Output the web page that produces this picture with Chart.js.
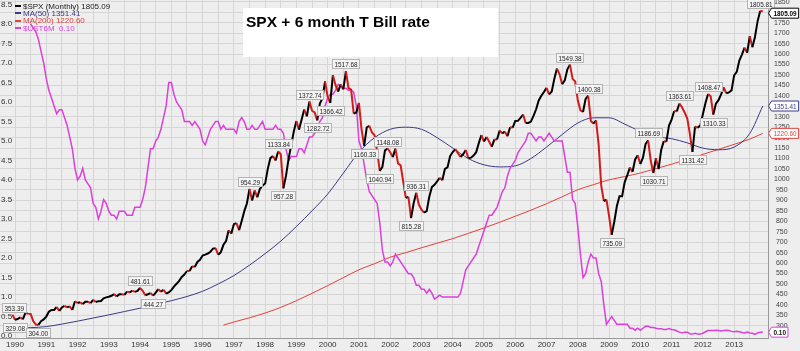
<!DOCTYPE html>
<html>
<head>
<meta charset="utf-8">
<script src="https://cdn.jsdelivr.net/npm/chart.js@4.4.0/dist/chart.umd.min.js"></script>
<style>
  html, body { margin: 0; padding: 0; background: #eeeeee; }
  #wrap { width: 800px; height: 351px; }
</style>
</head>
<body>
<div id="wrap"><canvas id="myChart" width="800" height="351"></canvas></div>
<script>
// month index: 0 = Jan 1990
const yearLabels = ['1990','1991','1992','1993','1994','1995','1996','1997','1998','1999','2000','2001',
  '2002','2003','2004','2005','2006','2007','2008','2009','2010','2011','2012','2013'];

// $SPX monthly close, starts Dec 1989 (month -1)
const spxStartMonth = -1;
const spxClose = [353.39,
  329.08, 331.89, 339.94, 330.80, 361.23, 358.02, 356.15, 322.56, 306.05, 304.00, 322.22, 330.22,
  343.93, 367.07, 375.22, 375.34, 389.83, 371.16, 387.81, 395.43, 387.86, 392.45, 375.22, 417.09,
  408.79, 412.70, 403.69, 414.95, 415.35, 408.14, 424.21, 414.03, 417.80, 418.68, 431.35, 435.71,
  438.78, 443.38, 451.67, 440.19, 450.19, 450.53, 448.13, 463.56, 458.93, 467.83, 461.79, 466.45,
  481.61, 467.14, 445.77, 450.91, 456.50, 444.27, 458.26, 475.49, 462.69, 472.35, 453.69, 459.27,
  470.42, 487.39, 500.71, 514.71, 533.40, 544.75, 562.06, 561.88, 584.41, 581.50, 605.37, 615.93,
  636.02, 640.43, 645.50, 654.17, 669.12, 670.63, 639.95, 651.99, 687.31, 705.27, 757.02, 740.74,
  786.16, 790.82, 757.12, 801.34, 848.28, 885.14, 954.29, 899.47, 947.28, 914.62, 955.40, 970.43,
  980.28, 1049.34, 1101.75, 1111.75, 1090.82, 1133.84, 1120.67, 957.28, 1017.01, 1098.67, 1163.63, 1229.23,
  1279.64, 1238.33, 1286.37, 1335.18, 1301.84, 1372.74, 1328.72, 1320.41, 1282.72, 1362.93, 1388.91, 1469.25,
  1394.46, 1366.42, 1498.58, 1452.43, 1420.60, 1454.60, 1430.83, 1517.68, 1436.51, 1429.40, 1314.95, 1320.28,
  1366.01, 1239.94, 1160.33, 1249.46, 1255.82, 1224.38, 1211.23, 1133.58, 1040.94, 1059.78, 1139.45, 1148.08,
  1130.20, 1106.73, 1147.39, 1076.92, 1067.14, 989.82, 911.62, 916.07, 815.28, 885.76, 936.31, 879.82,
  855.70, 841.15, 848.18, 916.92, 963.59, 974.50, 990.31, 1008.01, 995.97, 1050.71, 1058.20, 1111.92,
  1131.13, 1144.94, 1126.21, 1107.30, 1120.68, 1140.84, 1101.72, 1104.24, 1114.58, 1130.20, 1173.82, 1211.92,
  1181.27, 1203.60, 1180.59, 1156.85, 1191.50, 1191.33, 1234.18, 1220.33, 1228.81, 1207.01, 1249.48, 1248.29,
  1280.08, 1280.66, 1294.83, 1310.61, 1270.09, 1270.20, 1276.66, 1303.82, 1335.85, 1377.94, 1400.63, 1418.30,
  1438.24, 1406.82, 1420.86, 1482.37, 1530.62, 1503.35, 1455.27, 1473.99, 1526.75, 1549.38, 1481.14, 1468.36,
  1378.55, 1330.63, 1322.70, 1385.59, 1400.38, 1280.00, 1267.38, 1282.83, 1166.36, 968.75, 896.24, 903.25,
  825.88, 735.09, 797.87, 872.81, 919.14, 919.32, 987.48, 1020.62, 1057.08, 1036.19, 1095.63, 1115.10,
  1073.87, 1104.49, 1169.43, 1186.69, 1089.41, 1030.71, 1101.60, 1049.33, 1141.20, 1183.26, 1180.55, 1257.64,
  1286.12, 1327.22, 1325.83, 1363.61, 1345.20, 1320.64, 1292.28, 1218.89, 1131.42, 1253.30, 1246.96, 1257.60,
  1312.41, 1365.68, 1408.47, 1397.91, 1310.33, 1362.16, 1379.32, 1406.58, 1440.67, 1412.16, 1416.18, 1426.19,
  1498.11, 1514.68, 1569.19, 1597.57, 1630.74, 1606.28, 1685.73, 1632.97, 1681.55, 1756.54, 1805.81, 1805.09];

// $UST6M (6 month T Bill), starts Jul 1990
const ustStartMonth = 6;
const ust6m = [
  8.0, 7.9, 7.8, 7.6, 7.3, 7.0,
  6.6, 6.3, 6.1, 5.9, 5.7, 5.8, 5.8, 5.6, 5.4, 5.1, 4.8, 4.3,
  4.0, 4.1, 4.3, 4.0, 3.9, 3.8, 3.4, 3.3, 3.0, 3.2, 3.5, 3.4,
  3.2, 3.1, 3.1, 3.0, 3.2, 3.2, 3.2, 3.1, 3.1, 3.1, 3.3, 3.3,
  3.3, 3.5, 3.8, 4.3, 4.8, 4.8, 5.0, 5.1, 5.3, 5.6, 5.9, 6.5,
  6.5, 6.2, 6.0, 5.9, 5.8, 5.5, 5.5, 5.5, 5.4, 5.5, 5.4, 5.3,
  5.0, 4.9, 5.1, 5.3, 5.4, 5.5, 5.5, 5.3, 5.4, 5.3, 5.3, 5.3,
  5.3, 5.2, 5.5, 5.6, 5.5, 5.3, 5.3, 5.4, 5.3, 5.3, 5.4, 5.5,
  5.3, 5.3, 5.3, 5.3, 5.4, 5.3, 5.3, 5.2, 4.8, 4.5, 4.6, 4.6,
  4.6, 4.8, 4.8, 4.7, 4.9, 5.1, 5.1, 5.2, 5.3, 5.5, 5.6, 5.9,
  6.1, 6.2, 6.2, 6.3, 6.45, 6.4, 6.35, 6.35, 6.3, 6.3, 6.25, 5.9,
  5.0, 4.8, 4.4, 4.0, 3.7, 3.6, 3.5, 3.4, 2.9, 2.2, 1.9, 1.9,
  1.8, 1.9, 2.1, 2.0, 1.9, 1.8, 1.7, 1.6, 1.6, 1.5, 1.3, 1.3,
  1.2, 1.2, 1.1, 1.2, 1.1, 0.95, 1.0, 1.05, 1.0, 1.0, 1.0, 1.0,
  1.0, 1.0, 1.0, 1.1, 1.4, 1.7, 1.8, 1.9, 2.0, 2.1, 2.3, 2.5,
  2.7, 2.9, 3.1, 3.1, 3.2, 3.3, 3.5, 3.7, 3.8, 4.1, 4.3, 4.4,
  4.5, 4.7, 4.8, 4.9, 5.0, 5.2, 5.2, 5.1, 5.0, 5.1, 5.1, 5.0,
  5.1, 5.2, 5.1, 5.0, 5.0, 5.0, 5.0, 4.6, 4.2, 4.2, 3.5, 3.4,
  2.8, 2.1, 1.5, 1.6, 1.9, 2.1, 2.0, 2.0, 1.6, 1.4, 0.8, 0.3,
  0.4, 0.5, 0.4, 0.3, 0.3, 0.3, 0.3, 0.3, 0.2, 0.2, 0.15, 0.2,
  0.15, 0.2, 0.25, 0.25, 0.22, 0.22, 0.2, 0.19, 0.19, 0.17, 0.17, 0.19,
  0.17, 0.16, 0.13, 0.1, 0.08, 0.1, 0.1, 0.06, 0.05, 0.07, 0.05, 0.05,
  0.07, 0.11, 0.14, 0.14, 0.14, 0.15, 0.14, 0.13, 0.14, 0.15, 0.14, 0.12,
  0.11, 0.12, 0.11, 0.09, 0.08, 0.1, 0.08, 0.07, 0.04, 0.08, 0.1, 0.1];

// MA(50) every 6 months
const ma50Months = [-1, 6, 12, 18, 24, 30, 36, 42, 48, 54, 60, 66, 72, 78, 84, 90, 96, 102, 108, 114, 120,
  126, 132, 138, 144, 150, 156, 162, 168, 174, 180, 186, 192, 198, 204, 210, 216, 222, 228, 234, 240,
  246, 252, 258, 264, 270, 276, 282, 287];
const ma50Values = [289, 291, 296, 308, 322, 337, 352, 368, 384, 402, 420, 440, 465, 500, 540, 590, 645, 705, 775, 850, 930,
  1030, 1130, 1200, 1240, 1250, 1240, 1200, 1150, 1100, 1070, 1060, 1065, 1100, 1155, 1215, 1270, 1295, 1295, 1265, 1230,
  1205, 1195, 1175, 1150, 1142, 1155, 1220, 1351.41];

// MA(200), starts Sep 1996
const ma200Months = [80, 84, 90, 96, 102, 108, 114, 120, 126, 132, 138, 144, 150, 156, 162, 168, 174, 180,
  186, 192, 198, 204, 210, 216, 222, 228, 234, 240, 246, 252, 258, 264, 270, 276, 282, 287];
const ma200Values = [303, 318, 338, 361, 388, 420, 455, 492, 530, 568, 597, 628, 650, 673, 695, 717, 742, 768,
  795, 824, 853, 884, 917, 951, 975, 998, 1014, 1031, 1052, 1073, 1096, 1120, 1144, 1168, 1193, 1220.6];

// highs / lows that carry a value box: [month, above?]
const peakLabels = [[-1, true], [0, false], [9, false], [48, true], [53, false], [90, true], [101, true],
  [103, false], [113, true], [116, false], [121, false], [127, true], [134, false], [140, false], [143, true],
  [152, false], [154, true], [213, true], [220, true], [229, false], [243, true], [245, false], [255, true],
  [260, false], [266, true], [268, false], [286, true]];

const BLACK = '#000000', DOWN = '#d41a1a', NAVY = '#3a3a88', RED = '#e5413a', PINK = '#dc3fdc';
const sans = "'Liberation Sans', Arial, sans-serif";
const SQUEEZE = 0.8;

const leftTicks = [];
for (let v = 0; v <= 8.5; v += 0.5) leftTicks.push({ value: v });
const rightTicks = [];
for (let v = 300; v <= 1850; v += 50) rightTicks.push({ value: v });
const gridMonths = [];
for (let m = 0; m <= 282; m += 6) gridMonths.push({ value: m });

const spxPts = spxClose.map((v, k) => ({ x: k + spxStartMonth, y: v }));
const ustPts = ust6m.map((v, k) => ({ x: k + ustStartMonth, y: v }));
const ma50Pts = ma50Months.map((m, k) => ({ x: m, y: ma50Values[k] }));
const ma200Pts = ma200Months.map((m, k) => ({ x: m, y: ma200Values[k] }));

const last = a => a[a.length - 1];

// condensed text: draw normal font squeezed horizontally
function narrowWidth(c, t) { return c.measureText(t).width * SQUEEZE; }
function narrowText(c, t, x, y) {
  c.save();
  c.translate(x, y);
  c.scale(SQUEEZE, 1);
  c.fillText(t, 0, 0);
  c.restore();
}

function tag(c, x, y, text, border, color, bold) {
  c.font = (bold ? 'bold ' : '') + '8px ' + sans;
  const w = narrowWidth(c, text) + 4;
  c.beginPath();
  c.moveTo(x + 0.5, y); c.lineTo(x + 3.5, y - 5); c.lineTo(x + 3.5 + w, y - 5);
  c.lineTo(x + 3.5 + w, y + 5); c.lineTo(x + 3.5, y + 5); c.closePath();
  c.fillStyle = '#ffffff'; c.fill();
  c.strokeStyle = border; c.lineWidth = 1; c.stroke();
  c.fillStyle = color; c.textAlign = 'left'; c.textBaseline = 'middle';
  narrowText(c, text, x + 5.5, y + 0.5);
}

const decor = {
  id: 'decor',
  beforeDraw(chart) {
    const c = chart.ctx;
    c.save();
    c.fillStyle = '#eeeeee';
    c.fillRect(0, 0, chart.width, chart.height);
    c.restore();
  },
  afterDatasetsDraw(chart) {
    const c = chart.ctx, x = chart.scales.x, y = chart.scales.yR;
    c.save();
    c.font = '8px ' + sans;
    c.textBaseline = 'middle';
    c.textAlign = 'left';
    peakLabels.forEach(([m, above]) => {
      const v = spxClose[m - spxStartMonth];
      const t = v.toFixed(2);
      const px = x.getPixelForValue(m), py = y.getPixelForValue(v);
      const w = Math.round(narrowWidth(c, t) + 4), h = 9;
      const bx = Math.round(Math.max(2, px - w / 2));
      const by = Math.round(above ? py - 3 - h : py + 3);
      c.fillStyle = '#f4f4f4'; c.fillRect(bx, by, w, h);
      c.strokeStyle = '#b4b4b4'; c.lineWidth = 1;
      c.strokeRect(bx + 0.5, by + 0.5, w, h);
      c.fillStyle = '#222';
      narrowText(c, t, bx + 2.5, by + h / 2 + 1);
    });
    c.restore();
  },
  afterDraw(chart) {
    const c = chart.ctx, yR = chart.scales.yR, yL = chart.scales.yL;
    const right = chart.chartArea.right;
    c.save();
    // title
    c.fillStyle = '#ffffff';
    c.fillRect(243, 8, 255, 49);
    c.fillStyle = '#000';
    c.font = "bold 15.5px " + sans;
    c.textAlign = 'left'; c.textBaseline = 'alphabetic';
    c.fillText('SPX + 6 month T Bill rate', 246, 27);
    // legend
    const rows = [
      [BLACK, '$SPX (Monthly) ' + last(spxClose).toFixed(2), '#222'],
      [NAVY, 'MA(50) ' + last(ma50Values).toFixed(2), NAVY],
      [RED, 'MA(200) ' + last(ma200Values).toFixed(2), RED],
      [PINK, '$UST6M  ' + last(ust6m).toFixed(2), PINK]
    ];
    c.font = '8px ' + sans;
    c.textBaseline = 'middle';
    rows.forEach(([col, text, tcol], k) => {
      const yy = 6 + k * 7.3;
      c.fillStyle = col; c.fillRect(15, Math.round(yy) - 1, 6, 2);
      c.fillStyle = tcol; c.fillText(text, 23, yy + 0.5);
    });
    // last value tags on the right axis
    tag(c, right, yR.getPixelForValue(last(spxClose)) + 2, last(spxClose).toFixed(2), BLACK, BLACK, true);
    tag(c, right, yR.getPixelForValue(last(ma50Values)), last(ma50Values).toFixed(2), NAVY, NAVY, false);
    tag(c, right, yR.getPixelForValue(last(ma200Values)), last(ma200Values).toFixed(2), RED, RED, false);
    tag(c, right, yL.getPixelForValue(last(ust6m)), last(ust6m).toFixed(2), PINK, '#111', true);
    c.restore();
  }
};

const ctx1 = document.getElementById('myChart');
new Chart(ctx1, {
  type: 'line',
  data: {
    datasets: [{
      label: '$SPX',
      data: spxPts,
      yAxisID: 'yR',
      borderColor: BLACK,
      borderWidth: 2,
      segment: { borderColor: s => s.p1.parsed.y < s.p0.parsed.y ? DOWN : BLACK },
      order: 0
    }, {
      label: 'MA(50)',
      data: ma50Pts,
      yAxisID: 'yR',
      borderColor: NAVY,
      borderWidth: 1,
      cubicInterpolationMode: 'monotone',
      order: 2
    }, {
      label: 'MA(200)',
      data: ma200Pts,
      yAxisID: 'yR',
      borderColor: RED,
      borderWidth: 1,
      cubicInterpolationMode: 'monotone',
      order: 2
    }, {
      label: '$UST6M',
      data: ustPts,
      yAxisID: 'yL',
      borderColor: PINK,
      borderWidth: 1.5,
      order: 1
    }]
  },
  options: {
    responsive: false,
    animation: false,
    devicePixelRatio: 1,
    layout: { padding: 0 },
    elements: { point: { radius: 0 }, line: { tension: 0 } },
    plugins: { legend: { display: false }, tooltip: { enabled: false } },
    scales: {
      x: {
        type: 'linear',
        min: -5.76,
        max: 289.0,
        afterBuildTicks: s => { s.ticks = gridMonths.slice(); },
        afterFit: s => { s.height = 13; s.paddingLeft = 0; s.paddingRight = 0; },
        ticks: {
          autoSkip: false, maxRotation: 0, padding: 2, color: '#333',
          font: { family: sans, size: 8 },
          callback: v => (v % 12 === 0 ? yearLabels[v / 12] : '')
        },
        grid: { color: '#d6d6d6', drawTicks: false },
        border: { color: '#999' }
      },
      yL: {
        position: 'left',
        min: -0.05,
        max: 8.615,
        afterBuildTicks: s => { s.ticks = leftTicks.slice(); },
        afterFit: s => { s.width = 0; s.paddingTop = 0; s.paddingBottom = 0; },
        ticks: {
          autoSkip: false, mirror: true, padding: 1, color: '#333',
          font: { family: sans, size: 8 },
          callback: v => v.toFixed(1)
        },
        grid: { display: false, drawTicks: false },
        border: { display: false }
      },
      yR: {
        position: 'right',
        min: 241.4,
        max: 1858.6,
        afterBuildTicks: s => { s.ticks = rightTicks.slice(); },
        afterFit: s => { s.width = 32; s.paddingTop = 0; s.paddingBottom = 0; },
        ticks: {
          autoSkip: false, crossAlign: 'center', padding: 6, color: '#444',
          font: { family: sans, size: 7 },
          callback: v => String(v)
        },
        grid: { color: '#d6d6d6', drawTicks: false },
        border: { color: '#999' }
      }
    }
  },
  plugins: [decor]
});
</script>
</body>
</html>
